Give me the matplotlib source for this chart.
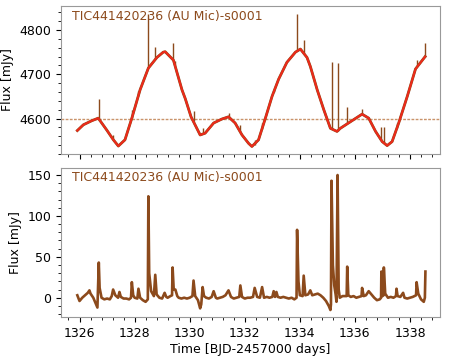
import numpy as np
import matplotlib
matplotlib.use("Agg")
import matplotlib.pyplot as plt
from matplotlib.ticker import AutoMinorLocator, MultipleLocator

# ---------------- data ----------------
label = "TIC441420236 (AU Mic)-s0001"

# smooth model (red) through the top light curve, BJD-2457000 / mJy
t_model = [1325.92, 1326.14, 1326.44, 1326.68, 1326.99, 1327.23, 1327.41, 1327.65,
           1327.90, 1328.20, 1328.50, 1328.81, 1329.04, 1329.11, 1329.41, 1329.72,
           1329.84, 1330.05, 1330.38, 1330.56, 1330.87, 1331.17, 1331.41, 1331.65,
           1331.90, 1332.14, 1332.26, 1332.50, 1332.75, 1332.99, 1333.23, 1333.53,
           1333.84, 1334.02, 1334.26, 1334.38, 1334.56, 1334.63, 1334.87, 1335.11,
           1335.35, 1335.47, 1335.84, 1336.26, 1336.50, 1336.75, 1336.99, 1337.17,
           1337.35, 1337.59, 1337.90, 1338.20, 1338.50, 1338.55]
f_model = [4573, 4586, 4595, 4601, 4574, 4552, 4538, 4552,
           4601, 4665, 4714, 4738, 4750, 4751, 4732, 4665,
           4645, 4604, 4563, 4567, 4590, 4599, 4604, 4590,
           4563, 4544, 4537, 4552, 4601, 4650, 4689, 4727,
           4750, 4757, 4738, 4718, 4680, 4665, 4620, 4578,
           4571, 4578, 4593, 4610, 4601, 4571, 4548, 4539,
           4548, 4590, 4650, 4712, 4736, 4740]

# flares seen in the top panel: time, local baseline, peak
flare_t = [1326.70, 1327.22, 1327.90, 1328.14, 1328.50, 1328.75, 1329.38, 1329.48,
           1330.14, 1330.47, 1331.41, 1331.84, 1332.36, 1332.63, 1333.05, 1333.90,
           1334.14, 1335.15, 1335.37, 1335.72, 1336.26, 1336.96, 1337.05, 1337.51,
           1338.24, 1338.56]
flare_base = [4598, 4553, 4601, 4652, 4714, 4735, 4735, 4720,
              4595, 4565, 4604, 4570, 4540, 4577, 4659, 4753,
              4748, 4577, 4571, 4589, 4610, 4551, 4545, 4578,
              4718, 4740]
flare_peak = [4645, 4563, 4620, 4663, 4836, 4761, 4770, 4730,
              4616, 4578, 4613, 4585, 4552, 4590, 4667, 4837,
              4777, 4728, 4725, 4626, 4622, 4582, 4582, 4589,
              4733, 4771]

# residual light curve (bottom panel), mJy
t_res = [1325.92, 1326.00, 1326.10, 1326.20, 1326.30, 1326.36, 1326.40, 1326.50,
         1326.60, 1326.65, 1326.70, 1326.73, 1326.80, 1326.90, 1327.00, 1327.10,
         1327.17, 1327.22, 1327.30, 1327.40, 1327.45, 1327.50, 1327.60, 1327.70,
         1327.80, 1327.87, 1327.90, 1327.95, 1328.00, 1328.10, 1328.14, 1328.20,
         1328.30, 1328.40, 1328.48, 1328.50, 1328.53, 1328.60, 1328.70, 1328.75,
         1328.80, 1328.90, 1329.00, 1329.09, 1329.15, 1329.20, 1329.30, 1329.36,
         1329.38, 1329.42, 1329.48, 1329.55, 1329.60, 1329.70, 1329.80, 1329.90,
         1330.00, 1330.10, 1330.14, 1330.20, 1330.30, 1330.38, 1330.42, 1330.47,
         1330.52, 1330.60, 1330.70, 1330.80, 1330.87, 1330.95, 1331.00, 1331.10,
         1331.20, 1331.30, 1331.41, 1331.50, 1331.60, 1331.70, 1331.80, 1331.84,
         1331.90, 1332.00, 1332.10, 1332.20, 1332.30, 1332.36, 1332.45, 1332.55,
         1332.63, 1332.70, 1332.80, 1332.90, 1333.00, 1333.05, 1333.10, 1333.15,
         1333.20, 1333.30, 1333.40, 1333.50, 1333.60, 1333.70, 1333.80, 1333.88,
         1333.90, 1333.95, 1334.00, 1334.10, 1334.14, 1334.20, 1334.30, 1334.38,
         1334.45, 1334.55, 1334.65, 1334.75, 1334.85, 1334.95, 1335.05, 1335.11,
         1335.13, 1335.15, 1335.20, 1335.25, 1335.30, 1335.33, 1335.37, 1335.41,
         1335.45, 1335.55, 1335.65, 1335.70, 1335.72, 1335.76, 1335.85, 1335.95,
         1336.05, 1336.15, 1336.24, 1336.26, 1336.32, 1336.40, 1336.50, 1336.60,
         1336.70, 1336.80, 1336.90, 1336.95, 1336.96, 1337.00, 1337.04, 1337.05,
         1337.10, 1337.20, 1337.30, 1337.40, 1337.49, 1337.51, 1337.55, 1337.65,
         1337.75, 1337.80, 1337.90, 1338.00, 1338.10, 1338.22, 1338.24, 1338.30,
         1338.40, 1338.50, 1338.54, 1338.56]
r_res = [3, -4, 0, 3, 6, 9, 5, 0,
         -8, -12, 43, 12, 0, -2, -1, -2,
         2, 10, 3, 0, 7, 1, -1, -1,
         -2, 0, 19, 3, 0, -1, 11, 0,
         -3, -5, -2, 124, 30, 8, 2, 28,
         4, 0, -1, 6, 1, 0, 2, 3,
         37, 10, 10, 2, 0, -1, 0, -1,
         0, 2, 21, 2, -3, -13, -8, 13,
         2, 0, -1, 1, 8, 0, -1, 0,
         1, 3, 9, 1, -1, 0, 1, 15,
         1, -1, 0, 0, 1, 12, 1, 0,
         13, 0, 1, 0, 1, 8, 1, 7,
         1, 0, 1, 0, -1, 0, -2, 0,
         83, 20, 3, 2, 27, 3, 4, 9,
         3, 4, 5, 3, 0, -4, -10, -15,
         -8, 143, 40, 15, 4, -5, 150, 10,
         0, 2, 2, 2, 38, 3, 1, 2,
         0, 1, 2, 12, 2, 3, 8, 4,
         0, -3, -2, 0, 32, 2, 3, 37,
         5, 0, 1, 0, 2, 11, 2, 1,
         6, 0, -1, 0, 1, 3, 19, 5,
         -2, -5, 0, 32]

mean_flux = 4600

brown = "#8c4a1c"
red = "#ec2a1a"

fig = plt.figure(figsize=(4.49, 3.59), dpi=100)
ax1 = fig.add_axes([0.136, 0.571, 0.844, 0.412])
ax2 = fig.add_axes([0.136, 0.116, 0.844, 0.417], sharex=ax1)

# --- top: light curve + model ---
ax1.plot(t_model, f_model, color=brown, lw=2.0, zorder=2)
ax1.vlines(flare_t, flare_base, flare_peak, color=brown, lw=1.0, zorder=2)
ax1.plot(t_model, f_model, color=red, lw=1.5, zorder=3)
ax1.axhline(mean_flux, color="#c9936a", lw=1.0, ls=(0, (2, 1)), zorder=1)
ax1.set_ylabel("Flux [mJy]", fontsize=9)
ax1.set_ylim(4520, 4854)
ax1.set_yticks([4600, 4700, 4800])
ax1.text(0.03, 0.975, label, transform=ax1.transAxes, ha="left", va="top",
         color=brown, fontsize=9)
plt.setp(ax1.get_xticklabels(), visible=False)

# --- bottom: residuals ---
ax2.plot(t_res, r_res, color=brown, lw=1.9, zorder=2)
ax2.set_ylabel("Flux [mJy]", fontsize=9)
ax2.set_xlabel("Time [BJD-2457000 days]", fontsize=9, labelpad=2)
ax2.set_ylim(-24, 159)
ax2.set_yticks([0, 50, 100, 150])
ax2.text(0.03, 0.975, label, transform=ax2.transAxes, ha="left", va="top",
         color=brown, fontsize=9)

ax1.set_xlim(1325.33, 1339.09)
ax1.xaxis.set_major_locator(MultipleLocator(2))
for ax in (ax1, ax2):
    ax.xaxis.set_minor_locator(AutoMinorLocator(5))
    ax.yaxis.set_minor_locator(AutoMinorLocator(5))
    ax.tick_params(labelsize=9)
    for sp in ax.spines.values():
        sp.set_color("#999999")

fig.savefig("out.png", dpi=100)
